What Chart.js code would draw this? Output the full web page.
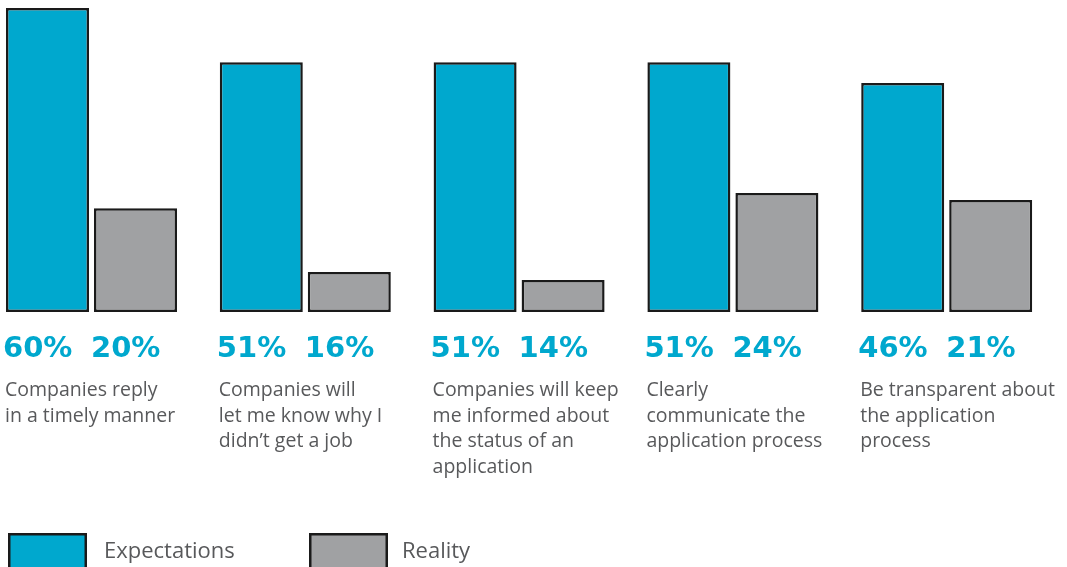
<!DOCTYPE html>
<html>
<head>
<meta charset="utf-8">
<script src="https://cdn.jsdelivr.net/npm/chart.js@4/dist/chart.umd.min.js"></script>
<style>
  html, body { margin: 0; padding: 0; background: #ffffff; }
  #wrap { width: 1067px; height: 567px; position: relative; overflow: hidden; }
</style>
</head>
<body>
<div id="wrap"><canvas id="c" width="1067" height="567"></canvas></div>
<script>
// Categories (multi-line labels shown under each group)
const categories = [
  ["Companies reply", "in a timely manner"],
  ["Companies will", "let me know why I", "didn\u2019t get a job"],
  ["Companies will keep", "me informed about", "the status of an", "application"],
  ["Clearly", "communicate the", "application process"],
  ["Be transparent about", "the application", "process"]
];
// Bar heights as drawn in the picture (percent scale)
const expectations = [60, 49.3, 49.3, 49.3, 45.2];
const reality = [20.5, 7.9, 6.3, 23.5, 22.1];
// Printed value labels
const expectationLabels = ["60%", "51%", "51%", "51%", "46%"];
const realityLabels = ["20%", "16%", "14%", "24%", "21%"];
const seriesNames = ["Expectations", "Reality"];

const CYAN = "#00A8CE";
const GREY = "#A0A1A3";
const TEXT = "#58595B";

const labelsPlugin = {
  id: "groupLabels",
  afterDatasetsDraw(chart) {
    const ctx = chart.ctx;
    const m0 = chart.getDatasetMeta(0);
    const m1 = chart.getDatasetMeta(1);
    const valueLabels = [expectationLabels, realityLabels];
    ctx.save();
    ctx.textBaseline = "alphabetic";
    ctx.textAlign = "left";
    [m0, m1].forEach((meta, di) => {
      meta.data.forEach((bar, i) => {
        const left = bar.x - bar.width / 2;
        ctx.font = "bold 29px 'DejaVu Sans'";
        ctx.fillStyle = CYAN;
        ctx.fillText(valueLabels[di][i], left - 3, 357);
      });
    });
    m0.data.forEach((bar, i) => {
      const left = bar.x - bar.width / 2;
      ctx.font = "19.5px 'Open Sans'";
      ctx.fillStyle = TEXT;
      categories[i].forEach((line, li) => {
        ctx.fillText(line, left - 1, 396 + li * 25.7);
      });
    });
    // legend
    const items = [
      { x: 8, tx: 104, color: chart.data.datasets[0].backgroundColor, label: chart.data.datasets[0].label },
      { x: 309, tx: 402, color: chart.data.datasets[1].backgroundColor, label: chart.data.datasets[1].label }
    ];
    items.forEach(it => {
      ctx.fillStyle = it.color;
      ctx.fillRect(it.x, 533, 79, 40);
      ctx.strokeStyle = "#1a1a1a";
      ctx.lineWidth = 2.5;
      ctx.strokeRect(it.x + 1.25, 534.25, 76.5, 40);
      ctx.font = "22px 'Open Sans'";
      ctx.fillStyle = TEXT;
      ctx.fillText(it.label, it.tx, 558);
    });
    ctx.restore();
  }
};

new Chart(document.getElementById("c"), {
  type: "bar",
  data: {
    labels: categories.map(c => c.join(" ")),
    datasets: [
      {
        label: seriesNames[0],
        data: expectations,
        backgroundColor: CYAN,
        borderColor: "#1a1a1a",
        borderWidth: 2.5,
        borderSkipped: false,
        clip: false
      },
      {
        label: seriesNames[1],
        data: reality,
        backgroundColor: GREY,
        borderColor: "#1a1a1a",
        borderWidth: 2.5,
        borderSkipped: false,
        clip: false
      }
    ]
  },
  options: {
    responsive: false,
    animation: false,
    devicePixelRatio: 1,
    categoryPercentage: 176 / 213.8,
    barPercentage: 83 / 88,
    layout: { padding: { left: 91.5, right: 120.3, top: 8, bottom: 255 } },
    plugins: { legend: { display: false }, tooltip: { enabled: false } },
    scales: {
      x: { display: false, offset: false, grid: { display: false } },
      y: { display: false, min: 0, max: 60 }
    }
  },
  plugins: [labelsPlugin]
});
</script>
</body>
</html>
